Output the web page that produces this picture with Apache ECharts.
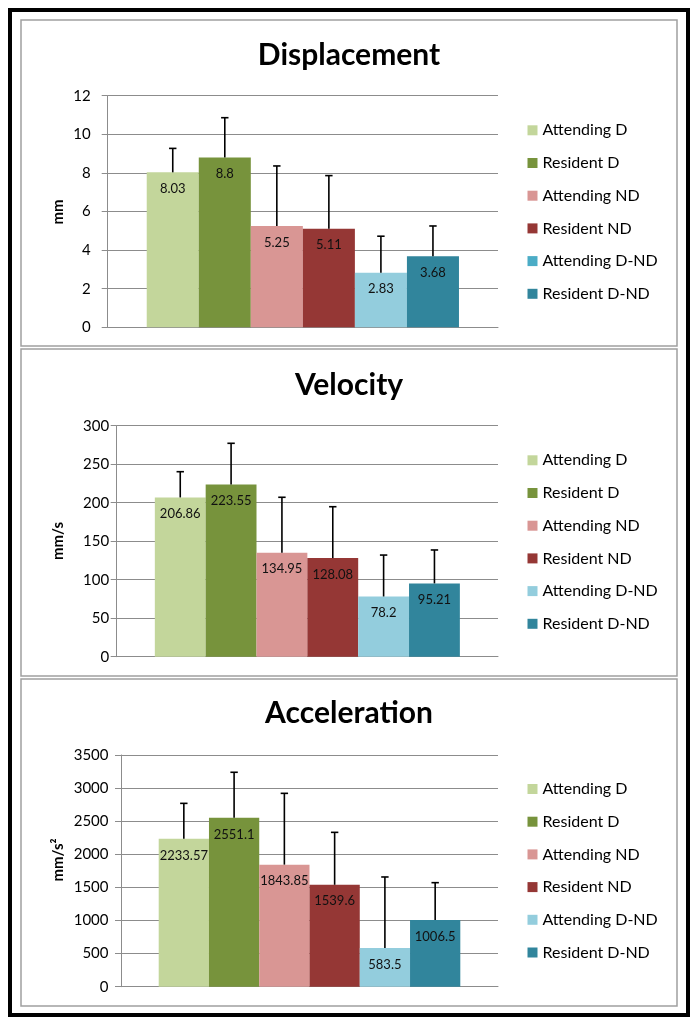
<!DOCTYPE html>
<html>
<head>
<meta charset="utf-8">
<script src="https://cdn.jsdelivr.net/npm/echarts@6/dist/echarts.min.js"></script>
<style>
html,body{margin:0;padding:0;background:#fff;}
#chart{width:699px;height:1026px;}
</style>
</head>
<body>
<div id="chart"></div>
<script>
// ---- data ----
const groups = ['Attending D', 'Resident D', 'Attending ND', 'Resident ND', 'Attending D-ND', 'Resident D-ND'];
const colors = ['#C3D69B', '#77933C', '#D99694', '#953735', '#93CDDD', '#31859C'];
const panelTitles = ['Displacement', 'Velocity', 'Acceleration'];
const axisNames = ['mm', 'mm/s', 'mm/s²'];
const dispMean = [8.03, 8.8, 5.25, 5.11, 2.83, 3.68];
const dispSD = [1.24, 2.06, 3.11, 2.75, 1.89, 1.57];
const velMean = [206.86, 223.55, 134.95, 128.08, 78.2, 95.21];
const velSD = [33.4, 53.6, 72.1, 66.7, 53.8, 43.4];
const accMean = [2233.57, 2551.1, 1843.85, 1539.6, 583.5, 1006.5];
const accSD = [536, 688, 1077, 792, 1074, 565];
const yMax = [12, 300, 3500];
const yStep = [2, 50, 500];

// ---- layout ----
const FONT = 'Lato, "Open Sans", sans-serif';
const grids = [
  {left: 107.7, top: 95.7, width: 390.3, height: 231.6},
  {left: 116.7, top: 425.7, width: 381.3, height: 231},
  {left: 121, top: 755, width: 377, height: 231.7}
];
const labelMargins = [17, 7.5, 12.5];
const legendTops = [117.3, 447.3, 776];
const titleY = [55, 385, 713];
const nameY = [212, 541, 860];
const panels = [[20, 326], [349, 327], [679, 327]];
const means = [dispMean, velMean, accMean];
const sds = [dispSD, velSD, accSD];

const chart = echarts.init(document.getElementById('chart'), null, {renderer: 'canvas'});

const xAxes = [], yAxes = [], series = [], legends = [], graphics = [];

graphics.push({type: 'rect', shape: {x: 10, y: 10, width: 678, height: 1005}, style: {fill: '#fff', stroke: '#000', lineWidth: 4}, z: -10});

for (let p = 0; p < 3; p++) {
  graphics.push({type: 'rect', shape: {x: 21, y: panels[p][0], width: 656, height: panels[p][1]},
    style: {fill: 'none', stroke: '#A0A0A0', lineWidth: 1.5}, z: -5});
  graphics.push({type: 'text', x: 349, y: titleY[p], style: {text: panelTitles[p], font: 'bold 30px ' + FONT,
    fill: '#000', textAlign: 'center', textVerticalAlign: 'middle'}});
  graphics.push({type: 'text', x: 58, y: nameY[p], rotation: Math.PI / 2,
    style: {text: axisNames[p], font: 'bold 15px ' + FONT, fill: '#000', textAlign: 'center', textVerticalAlign: 'middle'}});

  xAxes.push({type: 'category', gridIndex: p, data: [''], axisLabel: {show: false}, axisTick: {show: false},
    axisLine: {lineStyle: {color: '#8C8C8C', width: 1}}, splitLine: {show: false}});
  yAxes.push({type: 'value', gridIndex: p, min: 0, max: yMax[p], interval: yStep[p],
    axisLine: {show: true, lineStyle: {color: '#8C8C8C', width: 1}},
    axisTick: {show: true, inside: false, length: 6, lineStyle: {color: '#8C8C8C'}},
    splitLine: {show: true, lineStyle: {color: '#8C8C8C', width: 1}},
    axisLabel: {fontFamily: FONT, fontSize: 15, color: '#000', margin: labelMargins[p],
      formatter: function (v) { return String(v); }}});

  const legendData = groups.map((g, i) => {
    const item = {name: g};
    if (p === 0 && i === 4) item.itemStyle = {color: '#4BACC6'};
    return item;
  });
  legends.push({orient: 'vertical', left: 522.5, top: legendTops[p], icon: 'rect', itemWidth: 10, itemHeight: 10,
    itemGap: 16.7, selectedMode: false, data: legendData,
    textStyle: {fontFamily: FONT, fontSize: 16, lineHeight: 16, color: '#000'}});

  groups.forEach((g, i) => {
    series.push({type: 'bar', name: g, xAxisIndex: p, yAxisIndex: p, data: [means[p][i]],
      barGap: '0%', barCategoryGap: '20%', itemStyle: {color: colors[i]},
      label: {show: true, position: 'insideTop', distance: 10, fontFamily: FONT, fontSize: 13, color: '#111'},
      emphasis: {disabled: true}, animation: false});
  });

  const errData = groups.map((g, i) => [0, means[p][i], means[p][i] + sds[p][i], i]);
  series.push({type: 'custom', name: 'err' + p, xAxisIndex: p, yAxisIndex: p, silent: true, z: 5, animation: false,
    data: errData,
    renderItem: function (params, api) {
      const i = api.value(3);
      const base = api.coord([api.value(0), api.value(1)]);
      const top = api.coord([api.value(0), api.value(2)]);
      const band = api.size([1, 0])[0];
      const barW = band * 0.8 / 6;
      const x = base[0] - band * 0.4 + barW * (i + 0.5);
      const st = {stroke: '#000', lineWidth: 1.6};
      return {type: 'group', children: [
        {type: 'line', shape: {x1: x, y1: base[1], x2: x, y2: top[1]}, style: st},
        {type: 'line', shape: {x1: x - 3.7, y1: top[1], x2: x + 3.7, y2: top[1]}, style: st}
      ]};
    }});
}

chart.setOption({
  animation: false,
  backgroundColor: '#fff',
  grid: grids,
  xAxis: xAxes,
  yAxis: yAxes,
  legend: legends,
  series: series,
  graphic: graphics
});
</script>
</body>
</html>
